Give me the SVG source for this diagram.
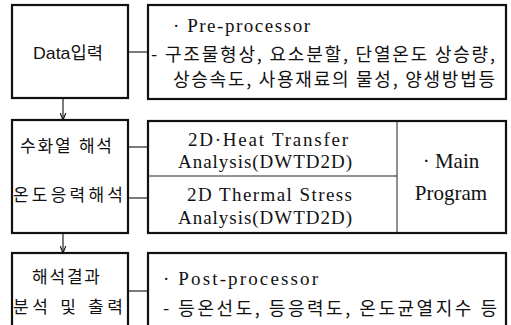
<svg xmlns="http://www.w3.org/2000/svg" width="511" height="325" viewBox="0 0 511 325">
<defs>
<marker id="arr" viewBox="0 0 10 10" refX="10" refY="5" markerWidth="7" markerHeight="7" orient="auto" markerUnits="userSpaceOnUse">
<path d="M0,1 L10,5 L0,9" fill="none" stroke="#111" stroke-width="1.6"/>
</marker>
<style>
.box{fill:#fff;stroke:#111;stroke-width:2.2}
.div{stroke:#222;stroke-width:1;fill:none}
.con{stroke:#222;stroke-width:1.2;fill:none}
.ks{font-family:"Liberation Sans","Noto Sans CJK KR",sans-serif;font-size:17px;fill:#111;dominant-baseline:central;text-anchor:middle}
.kr{font-family:"Noto Sans CJK KR",sans-serif;font-size:18px;fill:#111;dominant-baseline:central}
.sf{font-family:"Liberation Serif","Noto Sans CJK KR",serif;font-size:19px;fill:#111}
.sf2{font-family:"Liberation Serif",serif;font-size:21px;fill:#111;text-anchor:middle}
</style>
</defs>
<rect width="511" height="325" fill="#fff"/>
<g id="connectors">
<line class="con" x1="128" y1="52" x2="148" y2="52"/>
<line class="con" x1="63" y1="98" x2="63" y2="120" marker-end="url(#arr)"/>
<line class="con" x1="128" y1="147" x2="148" y2="147"/>
<line class="con" x1="128" y1="198" x2="148" y2="198"/>
<line class="con" x1="63" y1="233" x2="63" y2="253" marker-end="url(#arr)"/>
<line class="con" x1="128" y1="291" x2="148" y2="291"/>
</g>
<g id="data-input">
<rect class="box" x="12" y="5" width="116" height="93"/>
<text class="ks" x="68" y="53" textLength="70" lengthAdjust="spacingAndGlyphs">Data입력</text>
</g>
<g id="pre-processor">
<rect class="box" x="148" y="5" width="358" height="94"/>
<text class="sf" x="173" y="32" textLength="137" lengthAdjust="spacing">· Pre-processor</text>
<text class="kr" x="151" y="53" textLength="344" lengthAdjust="spacing">- 구조물형상, 요소분할, 단열온도 상승량,</text>
<text class="kr" x="173" y="78" textLength="322" lengthAdjust="spacing">상승속도, 사용재료의 물성, 양생방법등</text>
</g>
<g id="analysis">
<rect class="box" x="12" y="120" width="116" height="113"/>
<text class="ks" x="66" y="146" textLength="92" lengthAdjust="spacing">수화열 해석</text>
<text class="ks" x="68" y="195" textLength="110" lengthAdjust="spacing">온도응력해석</text>
</g>
<g id="main-program">
<rect class="box" x="148" y="121" width="358" height="112"/>
<line class="div" x1="148" y1="176" x2="397" y2="176"/>
<line class="div" x1="397" y1="121" x2="397" y2="233"/>
<text class="sf" x="188" y="146" textLength="160" lengthAdjust="spacing">2D·Heat Transfer</text>
<text class="sf" x="178" y="168" textLength="174" lengthAdjust="spacing">Analysis(DWTD2D)</text>
<text class="sf" x="187" y="201" textLength="165" lengthAdjust="spacing">2D Thermal Stress</text>
<text class="sf" x="178" y="224" textLength="174" lengthAdjust="spacing">Analysis(DWTD2D)</text>
<text class="sf2" x="451" y="168">· Main</text>
<text class="sf2" x="451" y="200">Program</text>
</g>
<g id="result-output">
<rect class="box" x="12" y="253" width="116" height="80"/>
<text class="ks" x="66" y="277" textLength="68" lengthAdjust="spacing">해석결과</text>
<text class="ks" x="68" y="307" textLength="110" lengthAdjust="spacing">분석 및 출력</text>
</g>
<g id="post-processor">
<rect class="box" x="148" y="253" width="358" height="80"/>
<text class="sf" x="163" y="285" textLength="155" lengthAdjust="spacing">· Post-processor</text>
<text class="kr" x="163" y="307" textLength="334" lengthAdjust="spacing">- 등온선도, 등응력도, 온도균열지수 등</text>
</g>
</svg>
